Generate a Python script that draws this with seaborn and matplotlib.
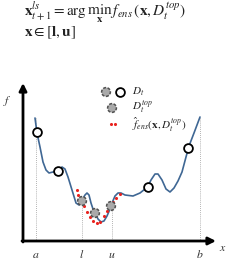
import matplotlib
matplotlib.use("Agg")
import matplotlib.pyplot as plt
import seaborn as sns
import pandas as pd

# ---- data (schematic coordinates, y grows downward) ----
curve_x = [35, 37, 40, 43, 46, 49, 53, 58, 62, 65, 68, 72, 76, 79, 82, 85, 87, 89, 91, 93, 95, 98,
           101, 104, 107, 110, 112, 115, 118, 121, 125, 133, 140, 145, 148, 151, 155, 158, 162, 166,
           170, 174, 178, 182, 186, 189, 194, 200]
curve_y = [118, 133, 147, 162, 170, 173, 172, 171, 167, 169, 177, 190, 203, 205, 200, 195, 193, 195,
           203, 209, 213, 219, 222, 221, 216, 209, 203, 196, 193, 193, 195, 196, 193, 189, 186, 180,
           174, 174, 180, 189, 192, 188, 181, 172, 157, 146, 133, 117]
open_x = [37, 58, 148, 188]
open_y = [132, 171, 187, 148]
top_x = [82, 95, 111]
top_y = [201, 213, 206]
ens_x = [77, 78, 80, 84, 87, 90, 93, 97, 100, 104, 107, 110, 113, 116, 120]
ens_y = [190, 195, 200, 206, 212, 217, 221, 223, 222, 216, 211, 206, 202, 198, 194]
tick_pos = [36, 82, 112, 200]
tick_lab = ["a", "l", "u", "b"]
tick_top = [118, 201, 206, 118]

sns.set_style("white")
plt.rcParams["mathtext.fontset"] = "stix"
plt.rcParams["font.family"] = ["STIXGeneral", "DejaVu Serif"]

fig = plt.figure(figsize=(2.49, 2.64), dpi=100)
ax = fig.add_axes([0, 0, 1, 1])
ax.set_xlim(0, 249)
ax.set_ylim(264, 0)
ax.axis("off")

# dotted guides
for xp, yt in zip(tick_pos, tick_top):
    ax.plot([xp, xp], [yt, 241], ls=(0, (1, 1.5)), color="#9a9a9a", lw=0.6, zorder=1)

# axes arrows
ax.annotate("", xy=(23, 83), xytext=(23, 242),
            arrowprops=dict(arrowstyle="-|>", lw=2, color="black", mutation_scale=11, shrinkA=0, shrinkB=0))
ax.annotate("", xy=(216, 241), xytext=(22, 241),
            arrowprops=dict(arrowstyle="-|>", lw=2, color="black", mutation_scale=11, shrinkA=0, shrinkB=0))

curve = pd.DataFrame({"x": curve_x, "y": curve_y})
sns.lineplot(data=curve, x="x", y="y", ax=ax, color="#3f6794", lw=1.2, sort=False, zorder=2)

ens = pd.DataFrame({"x": ens_x, "y": ens_y})
sns.scatterplot(data=ens, x="x", y="y", ax=ax, color="#e8231f", s=5, linewidth=0, zorder=3)

MS = 40
opn = pd.DataFrame({"x": open_x, "y": open_y})
sns.scatterplot(data=opn, x="x", y="y", ax=ax, facecolor="white", edgecolor="black", s=MS,
                linewidth=1.3, zorder=4)
top = pd.DataFrame({"x": top_x, "y": top_y})
sns.scatterplot(data=top, x="x", y="y", ax=ax, color="#a9a9a9", edgecolor="#505050", s=MS,
                linewidth=1.1, linestyles=[(0, (2, 1))], zorder=4)

# legend (hand-made)
leg_g = pd.DataFrame({"x": [106, 112], "y": [92, 108]})
sns.scatterplot(data=leg_g, x="x", y="y", ax=ax, color="#a9a9a9", edgecolor="#505050", s=MS,
                linewidth=1.1, linestyles=[(0, (2, 1))], zorder=4)
leg_o = pd.DataFrame({"x": [120], "y": [92]})
sns.scatterplot(data=leg_o, x="x", y="y", ax=ax, facecolor="white", edgecolor="black", s=MS,
                linewidth=1.3, zorder=4)
leg_r = pd.DataFrame({"x": [111, 115], "y": [124, 124]})
sns.scatterplot(data=leg_r, x="x", y="y", ax=ax, color="#e8231f", s=5, linewidth=0, zorder=3)
ax.text(132, 92, r"$D_t$", fontsize=8, va="center", ha="left", color="#222222")
ax.text(132, 107, r"$D_t^{top}$", fontsize=8, va="center", ha="left", color="#222222")
ax.text(132, 125, r"$\hat{f}_{ens}(\mathbf{x},D_t^{top})$", fontsize=8, va="center", ha="left", color="#222222")

# axis labels
for xp, lab in zip(tick_pos, tick_lab):
    ax.text(xp, 255, "$" + lab + "$", fontsize=8.5, ha="center", va="center", color="#333333")
ax.text(223, 248, r"$x$", fontsize=8.5, ha="center", va="center", color="#333333")
ax.text(7, 101, r"$f$", fontsize=8.5, ha="center", va="center", color="#333333")

# formula
ax.text(24, 12, r"$\mathbf{x}_{t+1}^{ls}=\arg\min_{\mathbf{x}}\, f_{ens}(\mathbf{x},D_t^{top})$",
        fontsize=11, ha="left", va="center", color="#222222")
ax.text(24, 33, r"$\mathbf{x}\in[\mathbf{l},\mathbf{u}]$", fontsize=11, ha="left", va="center",
        color="#222222")

sns.despine(ax=ax, left=True, bottom=True)
fig.savefig("out.png", dpi=100)
